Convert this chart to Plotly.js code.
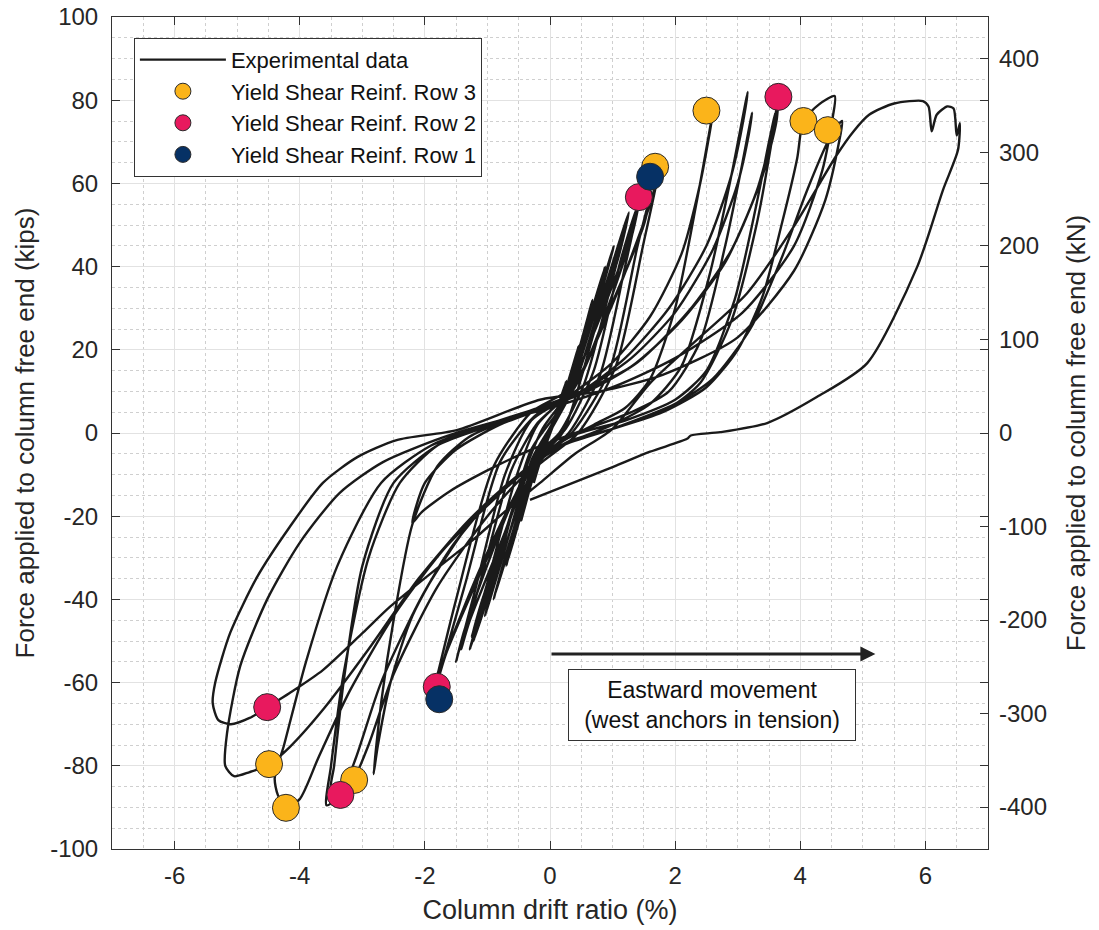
<!DOCTYPE html>
<html><head><meta charset="utf-8">
<script src="https://cdn.plot.ly/plotly-3.0.1.min.js"></script>
<style>html,body{margin:0;padding:0;background:#fff}#chart{width:1099px;height:930px}</style>
</head><body><div id="chart"></div>
<script>
// ---- tick labels ----
const xTickVals = [-6, -4, -2, 0, 2, 4, 6];
const xTickText = ['-6', '-4', '-2', '0', '2', '4', '6'];
const yTickVals = [-100, -80, -60, -40, -20, 0, 20, 40, 60, 80, 100];
const yTickText = ['-100', '-80', '-60', '-40', '-20', '0', '20', '40', '60', '80', '100'];
const kNTickVals = [-400, -300, -200, -100, 0, 100, 200, 300, 400];
const kNTickText = ['-400', '-300', '-200', '-100', '0', '100', '200', '300', '400'];
const KIPS_TO_KN = 4.44822;

// ---- experimental hysteresis (drift %, force kips) ----
// small elastic cycles
const smallDrift = [0,0.12,0.26,0.16,0.03,-0.12,-0.26,-0.15,-0.02,
  0.18,0.46,0.33,0.1,-0.14,-0.46,-0.33,-0.08,
  0.22,0.48,0.68,0.52,0.14,-0.18,-0.47,-0.7,-0.52,-0.12,
  0.28,0.6,0.88,0.7,0.2,-0.22,-0.6,-0.9,-0.72,-0.18,
  0.32,0.74,1.02,0.84,0.26,-0.28,-0.74,-1.04,-0.86,-0.22,
  0.38,0.9,1.26,1.1,0.35,-0.12,-0.4,-0.9,-1.28,-1.1,-0.3,
  0.2,0.7,1.2,1.05,0.3,-0.3,-0.8,-1.22,-1.05,-0.25,
  0.15,0.55,1.0,1.22,1.07,0.3,-0.2,-0.55,-1.0,-1.25,-1.08,-0.26,
  0.25,0.7,1.12,1.38,1.25,0.7,0.25,-0.22,-0.62,-1.1,-1.42,-1.28,-0.75,-0.3,
  0.3,0.8,1.2,1.42,1.3,0.35,-0.3,-0.72,-1.2,-1.5,-1.36,-0.35,
  0.35,0.95,1.4,1.62,1.5,0.9,0.35,-0.25,-0.8,-1.35,-1.82,-1.66,-1.0,-0.35,
  0.45,1.05,1.5,1.76,1.6,1.0,0.35,-0.3,-0.9,-1.5,-1.92,-1.76,-1.1,-0.4];
const smallForce = [0,6,12.5,7,1.5,-5,-12,-6.5,-1,
  7,21,14,4,-4,-21,-13.5,-2.5,
  8,21,32,22,5,-5,-20,-32,-21.5,-3.5,
  9,26,40,30,7,-5,-25,-40,-30,-5,
  10,31,45,35,8,-6,-29,-44,-34,-6,
  11,36,53,43,11,1,-9,-33,-52,-42,-8,
  0,24,50,41,9,-4,-30,-50,-40,-6,
  0,12,37,50,41,10,2,-11,-36,-49,-40,-7,
  1,15,41,54,46,24,9,2,-9,-35,-52,-45,-25,-8,
  0,14,40,55,47,10,3,-10,-38,-55,-47,-9,
  0,15,45,58,50,28,10,4,-7,-36,-61,-53,-30,-10,
  0,16,46,64,55,31,11,5,-8,-40,-66,-57,-32,-11];
// medium cycles
const midDrift = [0.1,0.7,1.2,1.6,2.0,2.35,2.62,2.55,2.4,2.1,1.6,1.0,0.4,-0.1,-0.7,-1.3,-1.8,-2.2,-2.5,-2.7,-2.82,-2.75,-2.55,-2.2,-1.6,-1.0,-0.4,
  0.2,1.0,1.6,2.1,2.55,2.9,3.16,3.1,2.9,2.5,1.9,1.2,0.5,-0.1,-0.8,-1.5,-2.0,-2.2,-2.05,-1.6,-1.0,-0.3,
  0.4,1.3,1.9,2.4,2.8,3.05,3.23,3.18,3.0,2.6,2.0,1.3,0.5,-0.2,-1.0,-1.8,-2.4,-2.9,-3.3,-3.5,-3.57,-3.35,-3.1,-2.7,-2.0,-1.2,-0.5,
  0.2,1.0,1.9,2.4,2.9,3.3,3.52,3.65,3.62,3.4,2.9,2.2,1.4,0.6,-0.1,-0.9,-1.8,-2.5,-3.0,-3.3,-3.45,-3.5,-3.3,-3.13,-2.9,-2.5,-1.8,-1.0,-0.4,
  0.3,1.2,2.0,2.5,2.95,3.3,3.5,3.6,3.55,3.3,2.8,2.1,1.3,0.5,-0.2,-1.0,-1.9,-2.7,-3.4,-3.9,-4.25,-4.4,-4.35,-4.22,-4.0,-3.7,-3.2,-2.5,-1.7,-0.9,-0.3];
const midForce = [-3,2,6,13,30,56,78.5,72,60,43,28,17,10,6,3,-1,-8,-22,-45,-65,-82,-75,-60,-44,-28,-17,-9,
  -3,2,7,16,38,62,82,76,62,45,30,18,10,6,2,-4,-12,-21.6,-19,-14,-9,-4,
  0,5,10,22,45,63,77,72,60,44,29,18,10,6,2,-3,-12,-30,-58,-80,-89.5,-87,-78,-60,-38,-20,-10,
  -3,1,6,12,27,50,68,80.8,75,62,44,29,17,10,6,2,-3,-12,-32,-60,-80,-86,-85.5,-83,-75,-58,-37,-20,-10,
  -1,3,8,15,32,55,70,77,72,58,41,27,16,10,6,2,-3,-12,-32,-55,-75,-83,-87,-90,-88,-78,-62,-44,-28,-16,-8];
// large cycles
const largeDrift = [0.3,1.0,1.8,2.5,3.0,3.4,3.7,3.95,4.05,4.3,4.55,4.52,4.35,3.9,3.08,2.0,1.0,0.0,-0.8,-1.7,-2.67,-3.36,-4.0,-4.52,-4.95,-5.16,-5.19,-5.05,-4.8,-4.5,-4.16,-3.6,-2.9,-2.1,-1.3,-0.5,
  0.2,1.0,2.0,2.6,3.2,3.7,4.1,4.44,4.6,4.67,4.62,4.4,3.9,3.0,1.8,0.8,-0.16,-1.49,-2.45,-3.08,-3.63,-4.16,-4.68,-5.11,-5.35,-5.39,-5.3,-5.1,-4.8,-4.52,-4.16,-3.63,-2.99,-2.56,-1.76,-1.23,-0.69,-0.16];
const largeForce = [-2,1,5,11,20,33,50,66,75,79,81,76,63,45,29,18,11,6,3,-1,-7,-14.4,-26.4,-40,-56,-72,-80,-82.5,-81.5,-79.8,-75.5,-66,-52,-35,-21,-10,
  -3,1,7,13,25,42,58,70,74,75,70,56,39,23,14,10,8,0.7,-1.7,-5.8,-12,-22.6,-34.6,-48,-60,-65,-69,-70,-68.5,-65.9,-62.5,-57,-48,-41.8,-32,-25.7,-18.5,-12];
// final push to 6.5 %
const finalDrift = [0.4,1.0,1.6,2.29,3.15,3.89,4.59,4.85,5.1,5.5,5.96,6.05,6.1,6.18,6.35,6.45,6.5,6.55,6.52,6.28,5.87,5.07,4.27,3.47,2.72,2.25,2.19,1.6,1.0,-0.32];
const finalForce = [-5,1,12,21.6,33.6,49.5,67,72.5,76.5,79.2,79.8,78.5,72.5,76.5,78.5,78,71.5,74.5,68,58.4,40,16.8,8.7,2.4,0.2,-0.6,-1.4,-4.5,-8.2,-16.1];

// ---- yield points ----
const row3Drift = [2.50, 1.68, 4.05, 4.44, -4.49, -4.22, -3.13];
const row3Force = [77.5, 64.0, 75.0, 72.8, -79.6, -90.1, -83.4];
const row2Drift = [1.42, 3.65, -4.52, -3.35, -1.81];
const row2Force = [56.7, 80.8, -65.9, -87.0, -61.0];
const row1Drift = [1.60, -1.77];
const row1Force = [61.6, -64.0];

const seriesNames = ['Experimental data', 'Yield Shear Reinf. Row 3', 'Yield Shear Reinf. Row 2', 'Yield Shear Reinf. Row 1'];
const colors = {line: '#1a1a1a', row3: '#FBB41A', row2: '#E8195E', row1: '#063165'};

const drift = [].concat(smallDrift, midDrift, largeDrift, finalDrift);
const force = [].concat(smallForce, midForce, largeForce, finalForce);

const FONT = 'Liberation Sans, Arial, Helvetica, sans-serif';
const mk = (c) => ({size: 27, color: c, line: {color: '#2a2a2a', width: 1}});

const traces = [
  {x: drift, y: force, type: 'scatter', mode: 'lines', name: seriesNames[0],
   line: {color: colors.line, width: 2.4, shape: 'spline', smoothing: 0.7}},
  {x: row3Drift, y: row3Force, type: 'scatter', mode: 'markers', name: seriesNames[1], marker: mk(colors.row3)},
  {x: row2Drift, y: row2Force, type: 'scatter', mode: 'markers', name: seriesNames[2], marker: mk(colors.row2)},
  {x: row1Drift, y: row1Force, type: 'scatter', mode: 'markers', name: seriesNames[3], marker: mk(colors.row1)},
  // empty trace so that the kN axis (same forces, other unit) is drawn
  {x: [], y: [], type: 'scatter', mode: 'lines', yaxis: 'y2', showlegend: false, hoverinfo: 'skip'}
];

const gridCol = '#e2e2e2';
const minorCol = '#cfcfcf';
const axisCommon = {
  showline: true, linecolor: '#333', linewidth: 1, mirror: 'ticks',
  ticks: 'inside', ticklen: 8, tickcolor: '#333', tickwidth: 1,
  showgrid: true, gridcolor: gridCol, gridwidth: 1, zeroline: false,
  tickfont: {family: FONT, size: 24, color: '#262626'}
};

const layout = {
  width: 1099, height: 930,
  margin: {l: 112, r: 111, t: 17, b: 81},
  paper_bgcolor: '#fff', plot_bgcolor: '#fff',
  font: {family: FONT, color: '#262626'},
  showlegend: true,
  legend: {x: 0.025, y: 0.975, xanchor: 'left', yanchor: 'top', bgcolor: '#fff',
           bordercolor: '#333', borderwidth: 1, font: {family: FONT, size: 22, color: '#111'},
           itemwidth: 86, tracegroupgap: 0},
  xaxis: Object.assign({}, axisCommon, {
    range: [-7, 7], tickmode: 'array', tickvals: xTickVals, ticktext: xTickText, ticklabelstandoff: 5,
    minor: {dtick: 0.5, tick0: 0, showgrid: true, gridcolor: minorCol, griddash: 'dot', gridwidth: 1},
    title: {text: 'Column drift ratio (%)', font: {family: FONT, size: 27, color: '#262626'}, standoff: 12}
  }),
  yaxis: Object.assign({}, axisCommon, {
    range: [-100, 100], tickmode: 'array', tickvals: yTickVals, ticktext: yTickText, ticklabelstandoff: 8,
    minor: {dtick: 5, tick0: 0, showgrid: true, gridcolor: minorCol, griddash: 'dot', gridwidth: 1},
    title: {text: 'Force applied to column free end (kips)', font: {family: FONT, size: 26, color: '#262626'}, standoff: 8}
  }),
  yaxis2: {
    overlaying: 'y', side: 'right', range: [-100 * KIPS_TO_KN, 100 * KIPS_TO_KN],
    tickmode: 'array', tickvals: kNTickVals, ticktext: kNTickText, ticklabelstandoff: 10,
    ticks: 'inside', ticklen: 8, tickcolor: '#333', showgrid: false, zeroline: false, showline: false,
    tickfont: {family: FONT, size: 24, color: '#262626'},
    title: {text: 'Force applied to column free end (kN)', font: {family: FONT, size: 26, color: '#262626'}, standoff: 20}
  },
  annotations: [
    {x: 5.2, y: -53.1, ax: 0, ay: -53.1, xref: 'x', yref: 'y', axref: 'x', ayref: 'y',
     text: '', showarrow: true, arrowhead: 2, arrowsize: 1, arrowwidth: 3, arrowcolor: '#222'},
    {x: 2.59, y: -65.4, xref: 'x', yref: 'y', showarrow: false,
     text: 'Eastward movement<br>(west anchors in tension)', align: 'center',
     font: {family: FONT, size: 23, color: '#111'}, bgcolor: '#fff', bordercolor: '#333', borderwidth: 1,
     width: 284, height: 68}
  ]
};

Plotly.newPlot('chart', traces, layout, {displayModeBar: false, staticPlot: true});
</script>
</body></html>
